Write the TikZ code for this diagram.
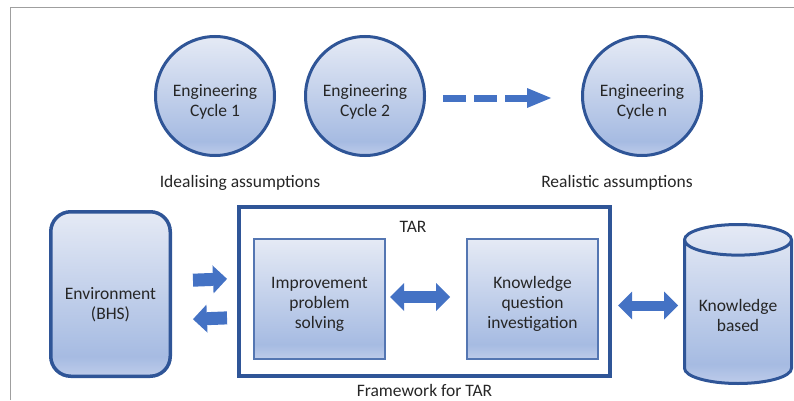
\documentclass[tikz,border=0pt]{standalone}
\usepackage{fontspec}
\setmainfont{Carlito}
\usetikzlibrary{arrows.meta,positioning,shapes.geometric}
\definecolor{edgeblue}{RGB}{47,85,151}
\definecolor{lineblue}{RGB}{84,118,178}
\definecolor{arrowblue}{RGB}{68,114,196}
\definecolor{shtop}{RGB}{229,234,245}
\definecolor{shdark}{RGB}{166,187,226}
\definecolor{shbot}{RGB}{190,204,234}
\definecolor{txt}{RGB}{38,38,38}
\pgfdeclareverticalshading{officeblue}{100bp}{color(0bp)=(shbot); color(25bp)=(shbot); color(31bp)=(shdark); color(75bp)=(shtop); color(100bp)=(shtop)}

\begin{document}
\begin{tikzpicture}[x=1pt,y=1pt,
  every node/.style={font=\fontsize{17.5}{20}\selectfont, text=txt},
  cyclenode/.style={circle, draw=edgeblue, line width=3pt, shading=officeblue,
    minimum size=119pt, inner sep=0pt, align=center, text height=43pt},
  envbox/.style={rectangle, rounded corners=20pt, draw=edgeblue, line width=3.5pt,
    shading=officeblue, minimum width=119.5pt, minimum height=164.5pt, align=center,
    text height=53pt},
  tarframe/.style={rectangle, draw=edgeblue, line width=4pt,
    minimum width=371pt, minimum height=169pt},
  stepbox/.style={rectangle, draw=lineblue, line width=2pt, shading=officeblue,
    minimum width=131pt, minimum height=120pt, align=center, text height=62pt},
  store/.style={cylinder, shape border rotate=90, aspect=0.36, draw=edgeblue,
    line width=3pt, shading=officeblue, minimum width=107pt, minimum height=159pt,
    align=center},
  >={Triangle[length=14pt,width=28pt,line width=0pt]},
  fatarrow/.style={draw=arrowblue, line width=13pt},
  dasharrow/.style={draw=arrowblue, line width=7pt, dash pattern=on 23pt off 8pt,
    -{Triangle[length=24pt,width=20pt,line width=0pt]}}]
 \useasboundingbox (0,0) rectangle (794,400);
 \draw[gray!75, line width=1pt] (10,0) -- (10,392) -- (794,392);

 % engineering cycles
 \node[cyclenode] (cyc1) at (215,304) {Engineering\\Cycle 1};
 \node[cyclenode] (cyc2) at (365,304) {Engineering\\Cycle 2};
 \node[cyclenode] (cycn) at (642,304) {Engineering\\Cycle n};
 \draw[dasharrow, shorten <=17pt, shorten >=30pt] ([yshift=-2]cyc2.east) -- ([yshift=-2]cycn.west);

 \node (ideal) at (240,217) {Idealising assumptions};
 \node (real) at (617,217) {Realistic assumptions};

 % TAR framework
 \node[envbox] (env) at (110.5,106) {Environment\\(BHS)};
 \node[tarframe] (tar) at (424.5,108.5) {};
 \node (tarlbl) at (413,173) {TAR};
 \node[stepbox] (imp) at (319.5,101) {Improvement\\problem\\solving};
 \node[stepbox] (kq) at (532.5,101) {Knowledge\\question\\investigation};
 \node[store, anchor=shape center] (kb) at (738,96) {Knowledge\\based};
 \node[below=3pt of tar] (fw) {Framework for TAR};
 \coordinate (kbin) at ([yshift=-1.5]kb.shape center -| kb.west);

 \draw[fatarrow, ->, shorten <=21pt, shorten >=10pt] ([yshift=13]env.east) -- ([yshift=13]tar.west);
 \draw[fatarrow, <-, shorten <=21pt, shorten >=10pt] ([yshift=-26]env.east) -- ([yshift=-26]tar.west);
 \draw[fatarrow, <->, line width=12pt, shorten <=4pt, shorten >=16pt] ([yshift=2]imp.east) -- ([yshift=2]kq.west);
 \draw[fatarrow, <->, line width=10pt, shorten <=6pt, shorten >=5pt] (kbin -| tar.east) -- (kbin);
\end{tikzpicture}
\end{document}
